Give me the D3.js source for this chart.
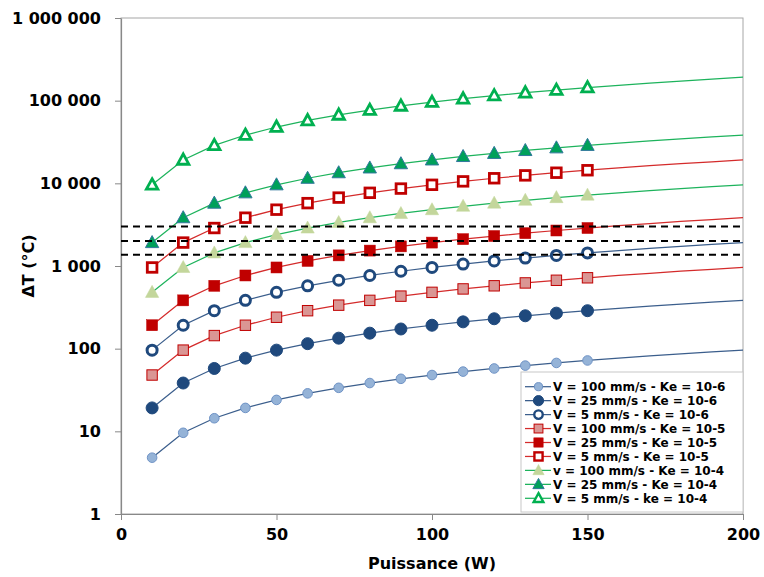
<!DOCTYPE html>
<html><head><meta charset="utf-8">
<script src="https://cdn.jsdelivr.net/npm/d3@7"></script>
<style>body{margin:0;background:#fff;}svg{display:block;}text{font-family:"DejaVu Sans",Verdana,sans-serif;font-weight:bold;fill:#000;}</style>
</head><body>
<svg id="c" width="764" height="577"></svg>
<script>
const puissance = [10,20,30,40,50,60,70,80,90,100,110,120,130,140,150,160,170,180,190,200];
const markerCount = 15; // markers shown for 10..150 W
const s_v100_ke6 = [4.8,9.6,14.4,19.2,24,28.8,33.6,38.4,43.2,48,52.8,57.6,62.4,67.2,72,76.8,81.6,86.4,91.2,96];
const s_v25_ke6  = [19.2,38.4,57.6,76.8,96,115,134,154,173,192,211,230,250,269,288,307,326,346,365,384];
const s_v5_ke6   = [96,192,288,384,480,576,672,768,864,960,1056,1152,1248,1344,1440,1536,1632,1728,1824,1920];
const s_v100_ke5 = [48,96,144,192,240,288,336,384,432,480,528,576,624,672,720,768,816,864,912,960];
const s_v25_ke5  = [192,384,576,768,960,1152,1344,1536,1728,1920,2112,2304,2496,2688,2880,3072,3264,3456,3648,3840];
const s_v5_ke5   = [960,1920,2880,3840,4800,5760,6720,7680,8640,9600,10560,11520,12480,13440,14400,15360,16320,17280,18240,19200];
const s_v100_ke4 = [480,960,1440,1920,2400,2880,3360,3840,4320,4800,5280,5760,6240,6720,7200,7680,8160,8640,9120,9600];
const s_v25_ke4  = [1920,3840,5760,7680,9600,11520,13440,15360,17280,19200,21120,23040,24960,26880,28800,30720,32640,34560,36480,38400];
const s_v5_ke4   = [9600,19200,28800,38400,48000,57600,67200,76800,86400,96000,105600,115200,124800,134400,144000,153600,163200,172800,182400,192000];
const seriesNames = ["V = 100 mm/s - Ke = 10-6","V = 25 mm/s - Ke = 10-6","V = 5 mm/s - Ke = 10-6",
  "V = 100 mm/s - Ke = 10-5","V = 25 mm/s - Ke = 10-5","V = 5 mm/s - Ke = 10-5",
  "v = 100 mm/s - Ke = 10-4","V = 25 mm/s - Ke = 10-4","V = 5 mm/s - ke = 10-4"];
const seriesValues = [s_v100_ke6,s_v25_ke6,s_v5_ke6,s_v100_ke5,s_v25_ke5,s_v5_ke5,s_v100_ke4,s_v25_ke4,s_v5_ke4];
const thresholds = [3000, 2000, 1370];
const xTicks = [0,50,100,150,200];
const yTicks = [1,10,100,1000,10000,100000,1000000];

const styles = [
  {shape:"circle", r:4.8, fill:"#95B3D7", stroke:"#6F93C6", sw:1, line:"#3B5E8C"},
  {shape:"circle", r:6, fill:"#1F497D", stroke:"#1F497D", sw:1, line:"#3B5E8C"},
  {shape:"circle", r:5, fill:"#fff", stroke:"#1F497D", sw:3, line:"#3B5E8C"},
  {shape:"square", r:5.2, fill:"#DA9694", stroke:"#C00000", sw:1, line:"#D42B2B"},
  {shape:"square", r:5.5, fill:"#C00000", stroke:"#C00000", sw:0.5, line:"#D42B2B"},
  {shape:"square", r:4.8, fill:"#fff", stroke:"#C00000", sw:2.8, line:"#D42B2B"},
  {shape:"triangle", r:7, fill:"#C3D69B", stroke:"#C3D69B", sw:0.5, line:"#1DB35C"},
  {shape:"triangle", r:7, fill:"#00A05A", stroke:"#31779C", sw:1, line:"#1DB35C"},
  {shape:"triangle", r:6, fill:"#fff", stroke:"#00B050", sw:2.8, line:"#1DB35C"}
];

const svg = d3.select("#c");
const x = d3.scaleLinear().domain([0,200]).range([121,743]);
const y = d3.scaleLog().domain([1,1e6]).range([514,18]);
const loc = d3.formatLocale({decimal:",", thousands:" ", grouping:[3], currency:["",""]});
const fmt = loc.format(",d");

// frame
svg.append("rect").attr("x",x(0)).attr("y",y(1e6)).attr("width",x(200)-x(0)).attr("height",y(1)-y(1e6))
  .attr("fill","none").attr("stroke","#a6a6a6").attr("stroke-width",1);

// axes
const yAxis = svg.append("g").attr("transform",`translate(${x(0)},0)`)
  .call(d3.axisLeft(y).tickValues(yTicks).tickFormat(fmt).tickSizeInner(6).tickSizeOuter(0).tickPadding(14));
const xAxis = svg.append("g").attr("transform",`translate(0,${y(1)})`)
  .call(d3.axisBottom(x).tickValues(xTicks).tickFormat(d3.format("d")).tickSizeInner(6).tickSizeOuter(0).tickPadding(9));
[yAxis,xAxis].forEach(g=>{
  g.select(".domain").attr("stroke","#888").attr("stroke-width",1.2);
  g.selectAll(".tick line").attr("stroke","#888");
  g.selectAll("text").style("font-family","'DejaVu Sans',Verdana,sans-serif").style("font-weight","bold").style("font-size","16px").attr("fill","#000");
});

// axis titles
svg.append("text").attr("x",(x(0)+x(200))/2).attr("y",569).attr("text-anchor","middle").style("font-size","16px").text("Puissance (W)");
svg.append("text").attr("transform",`translate(34,${y(1000)}) rotate(-90)`).attr("text-anchor","middle").style("font-size","16px").text("ΔT (°C)");

const line = d3.line().x((d,i)=>x(puissance[i])).y(d=>y(d));
const tri = r => `M0,${-r}L${r*0.95},${r*0.72}L${-r*0.95},${r*0.72}Z`;

function marker(g, st, cx, cy){
  let m;
  if(st.shape==="circle") m = g.append("circle").attr("cx",cx).attr("cy",cy).attr("r",st.r);
  else if(st.shape==="square") m = g.append("rect").attr("x",cx-st.r).attr("y",cy-st.r).attr("width",st.r*2).attr("height",st.r*2);
  else m = g.append("path").attr("d",tri(st.r)).attr("transform",`translate(${cx},${cy})`);
  m.attr("fill",st.fill).attr("stroke",st.stroke).attr("stroke-width",st.sw);
}

// series lines first
seriesValues.forEach((vals,k)=>{
  svg.append("path").datum(vals).attr("d",line).attr("fill","none").attr("stroke",styles[k].line).attr("stroke-width",1.25);
});
// markers
seriesValues.forEach((vals,k)=>{
  const g = svg.append("g");
  vals.slice(0,markerCount).forEach((v,i)=>marker(g, styles[k], x(puissance[i]), y(v)));
});

// threshold dashed lines
thresholds.forEach(t=>{
  svg.append("line").attr("x1",x(0)).attr("x2",x(200)).attr("y1",y(t)).attr("y2",y(t))
    .attr("stroke","#000").attr("stroke-width",2).attr("stroke-dasharray","7,5");
});

// legend
const lg = svg.append("g");
lg.append("rect").attr("x",521).attr("y",372).attr("width",222).attr("height",140).attr("fill","#fff").attr("stroke","#c8c8c8").attr("stroke-width",1);
seriesNames.forEach((n,k)=>{
  const yy = 386.7 + k*13.95;
  lg.append("line").attr("x1",525).attr("x2",551).attr("y1",yy).attr("y2",yy).attr("stroke",styles[k].line).attr("stroke-width",1.25);
  const st = Object.assign({}, styles[k]);
  st.r = st.r*0.85;
  if(st.sw>2) st.sw = 2.4;
  marker(lg, st, 538.5, yy);
  lg.append("text").attr("x",553).attr("y",yy).attr("dy","0.36em").style("font-size","12px").text(n);
});
</script>
</body></html>
